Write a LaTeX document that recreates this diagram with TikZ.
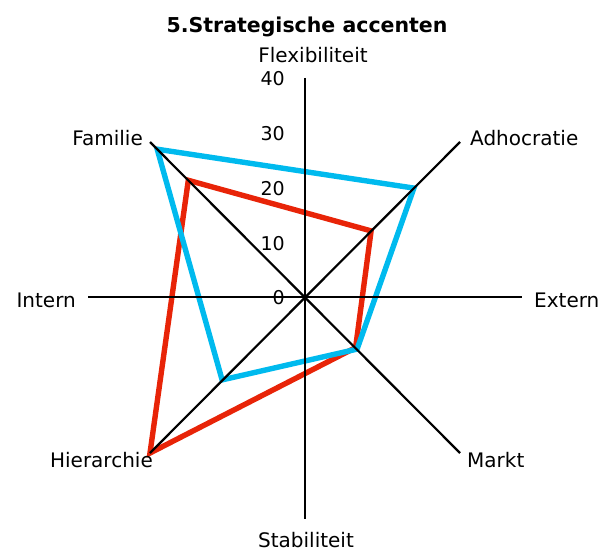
\documentclass[tikz,border=0pt]{standalone}
\usepackage{fontspec}
\setmainfont{DejaVu Sans}
\definecolor{serblue}{RGB}{0,186,238}
\definecolor{serred}{RGB}{232,36,8}
\begin{document}
\begin{tikzpicture}[x=1pt,y=-1pt,
  axis/.style={line width=2.7pt,black},
  diag/.style={line width=2.2pt,black},
  series/.style={line width=5.4pt,line join=miter,miter limit=10},
  lbl/.style={font=\fontsize{20}{24}\selectfont,inner sep=0pt},
  tick/.style={font=\fontsize{19}{22}\selectfont,inner sep=0pt,anchor=east},
  ttl/.style={font=\fontsize{20.5}{24}\selectfont\bfseries,inner sep=0pt}]
\useasboundingbox (0,0) rectangle (605,551);
% axis ends
\coordinate (O) at (305,297);
\coordinate (N) at (305,78);
\coordinate (S) at (305,519);
\coordinate (W) at (88,297);
\coordinate (E) at (522,297);
\coordinate (NW) at (150,142);
\coordinate (NE) at (460,142);
\coordinate (SE) at (460,453);
\coordinate (SW) at (150,453);
% data points (value v -> offset v*3.89)
\coordinate (rF) at (188.3,180.3);
\coordinate (rA) at (371.1,230.9);
\coordinate (rM) at (355.6,347.6);
\coordinate (rH) at (150,453);
\coordinate (bF) at (157.2,149.2);
\coordinate (bA) at (413.9,188.1);
\coordinate (bM) at (357.1,349.1);
\coordinate (bH) at (222.1,379.9);
\draw[series,serred] (rF) -- (rA) -- (rM) -- (rH) -- cycle;
\draw[series,serblue] (bF) -- (bA) -- (bM) -- (bH) -- cycle;
\draw[diag] (NW) -- (SE);
\draw[diag] (NE) -- (SW);
\draw[axis] (N) -- (S);
\draw[axis] (W) -- (E);
% labels
\node[ttl] (title) at (307,27) {5.Strategische accenten};
\node[lbl] (flex) at (313,55) {Flexibiliteit};
\node[lbl] (stab) at (306,540) {Stabiliteit};
\node[lbl,anchor=east] (intern) at (76,300) {Intern};
\node[lbl,anchor=west] (extern) at (534,300) {Extern};
\node[lbl,anchor=east] (fam) at (143,138) {Familie};
\node[lbl,anchor=west] (adh) at (470,138) {Adhocratie};
\node[lbl,anchor=east] (hier) at (153,460) {Hierarchie};
\node[lbl,anchor=west] (markt) at (467,460) {Markt};
\node[tick] (t40) at (285,79) {40};
\node[tick] (t30) at (285,134) {30};
\node[tick] (t20) at (285,189) {20};
\node[tick] (t10) at (285,244) {10};
\node[tick] (t0) at (285,298) {0};
\end{tikzpicture}
\end{document}
